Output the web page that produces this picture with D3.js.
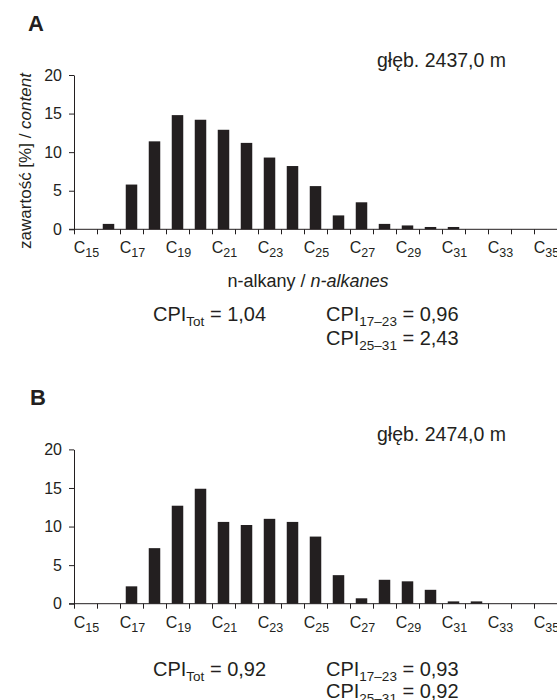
<!DOCTYPE html>
<html>
<head>
<meta charset="utf-8">
<script src="https://cdn.jsdelivr.net/npm/d3@7"></script>
<style>
  body { margin: 0; background: #fff; }
  text { font-family: "Liberation Sans", Arial, sans-serif; fill: #231f20; }
</style>
</head>
<body>
<div id="chart"></div>
<script>
// n-alkane carbon numbers (categories)
const carbons = [15, 16, 17, 18, 19, 20, 21, 22, 23, 24, 25, 26, 27, 28, 29, 30, 31, 32, 33, 34, 35];
const labelCarbons = [15, 17, 19, 21, 23, 25, 27, 29, 31, 33, 35];
const yTicks = [0, 5, 10, 15, 20];

// content [%]
const contentA = [0, 0.7, 5.8, 11.4, 14.8, 14.2, 12.9, 11.2, 9.3, 8.2, 5.6, 1.8, 3.5, 0.7, 0.5, 0.3, 0.3, 0, 0, 0, 0];
const contentB = [0, 0, 2.25, 7.2, 12.7, 14.9, 10.6, 10.2, 11.0, 10.6, 8.7, 3.7, 0.7, 3.1, 2.9, 1.8, 0.3, 0.3, 0, 0, 0];

const panelNames = ["A", "B"];
const depths = ["głęb. 2437,0 m", "głęb. 2474,0 m"];
const cpiTot = ["1,04", "0,92"];
const cpi1723 = ["0,96", "0,93"];
const cpi2531 = ["2,43", "0,92"];

const ink = "#231f20";
const width = 557, height = 700;

const svg = d3.select("#chart").append("svg")
  .attr("width", width)
  .attr("height", height);

const x = d3.scaleBand().domain(carbons).range([74, 557]).paddingInner(0.5).paddingOuter(0.25);
const xEdge = d3.scaleLinear().domain([15, 36]).range([74, 557]);

// text with subscripts: parts = [[string, isSub], ...]
function subText(g, px, py, parts, size, subSize, shift, anchor) {
  const t = g.append("text")
    .attr("x", px).attr("y", py)
    .attr("font-size", size)
    .attr("text-anchor", anchor || "start");
  let down = false;
  parts.forEach(([s, sub]) => {
    const sp = t.append("tspan").text(s);
    if (sub) { sp.attr("font-size", subSize).attr("dy", down ? 0 : shift); down = true; }
    else if (down) { sp.attr("dy", -shift); down = false; }
  });
  return t;
}

function drawPanel(i, values, dy, withTitle) {
  const g = svg.append("g").attr("transform", `translate(0,${dy})`);
  const y = d3.scaleLinear().domain([0, 20]).range([229.3, 75]);

  g.append("text").attr("x", 28 + i * 2).attr("y", 31)
    .attr("font-size", 22).attr("font-weight", "bold").text(panelNames[i]);

  g.append("text").attr("x", 377).attr("y", 67)
    .attr("font-size", 19.5).text(depths[i]);

  // bars
  g.append("g").selectAll("rect")
    .data(carbons.map((c, k) => ({c, v: values[k]})).filter(d => d.v > 0))
    .join("rect")
    .attr("x", d => x(d.c))
    .attr("width", x.bandwidth())
    .attr("y", d => y(d.v))
    .attr("height", d => y(0) - y(d.v))
    .attr("fill", ink);

  // y axis
  const ya = g.append("g").attr("transform", "translate(74,0)")
    .call(d3.axisLeft(y).tickValues(yTicks).tickSize(5).tickSizeOuter(0).tickPadding(7));
  ya.selectAll("path, line").attr("stroke", ink);
  ya.selectAll("text").attr("font-size", 16).attr("font-family", null).attr("fill", ink);

  // x axis
  const xa = g.append("g").attr("transform", `translate(0,${y(0)})`)
    .call(d3.axisBottom(xEdge).tickValues(d3.range(15, 37)).tickSize(5).tickFormat(""));
  xa.select(".domain").remove();
  xa.selectAll("line").attr("stroke", ink);
  xa.append("line").attr("x1", 69).attr("x2", 557).attr("stroke", ink);

  labelCarbons.forEach(c => {
    subText(g, x(c) + x.bandwidth() / 2 + 1, y(0) + 24, [["C", false], [String(c), true]], 16, 12.5, 4, "middle");
  });

  let cy = 321, gap = 24;
  if (withTitle) {
    const xt = g.append("text").attr("x", 308).attr("y", 287)
      .attr("font-size", 18).attr("text-anchor", "middle");
    xt.append("tspan").text("n-alkany / ");
    xt.append("tspan").attr("font-style", "italic").text("n-alkanes");

    const yt = g.append("text")
      .attr("transform", "translate(31,161) rotate(-90)")
      .attr("font-size", 17).attr("text-anchor", "middle");
    yt.append("tspan").text("zawartość [%] / ");
    yt.append("tspan").attr("font-style", "italic").text("content");
  } else {
    cy = 676 - dy;
    gap = 22;
  }

  subText(g, 153, cy, [["CPI", false], ["Tot", true], [" = " + cpiTot[i], false]], 20, 13.5, 5);
  subText(g, 326, cy, [["CPI", false], ["17–23", true], [" = " + cpi1723[i], false]], 20, 13.5, 5);
  subText(g, 326, cy + gap, [["CPI", false], ["25–31", true], [" = " + cpi2531[i], false]], 20, 13.5, 5);
}

drawPanel(0, contentA, 0, true);
drawPanel(1, contentB, 374.4, false);
</script>
</body>
</html>
